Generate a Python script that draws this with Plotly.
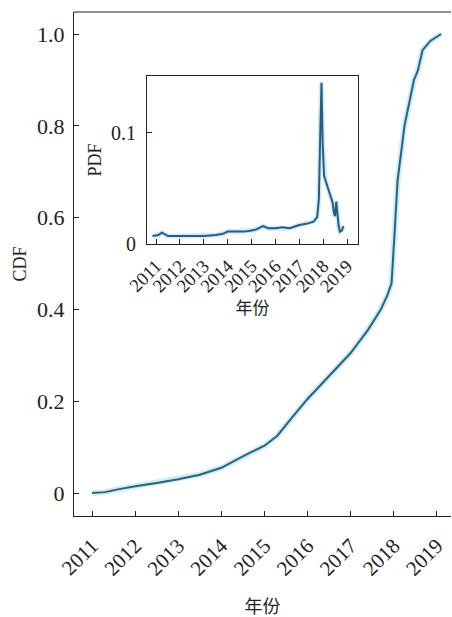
import plotly.graph_objects as go

# Main CDF curve (year, cumulative fraction)
cdf_year = [2011.0, 2011.3, 2011.6, 2012.0, 2012.5, 2013.0, 2013.5, 2014.0, 2014.3, 2014.6,
            2015.0, 2015.3, 2015.6, 2016.0, 2016.5, 2017.0, 2017.4, 2017.7, 2017.85, 2017.95,
            2018.02, 2018.09, 2018.25, 2018.37, 2018.47, 2018.56, 2018.67, 2018.85, 2019.1]
cdf_val = [0.0, 0.002, 0.008, 0.015, 0.022, 0.03, 0.04, 0.055, 0.07, 0.085,
           0.103, 0.125, 0.16, 0.205, 0.255, 0.305, 0.355, 0.40, 0.43, 0.457,
           0.566, 0.68, 0.80, 0.856, 0.90, 0.92, 0.965, 0.985, 1.0]

# Inset PDF curve
pdf_year = [2010.85, 2011.1, 2011.25, 2011.5, 2012.0, 2012.5, 2013.0, 2013.5, 2013.8, 2014.0,
            2014.3, 2014.7, 2015.0, 2015.2, 2015.48, 2015.7, 2016.0, 2016.3, 2016.6, 2017.0,
            2017.3, 2017.6, 2017.75, 2017.82, 2017.88, 2017.93, 2017.98, 2018.04, 2018.1, 2018.2,
            2018.3, 2018.4, 2018.45, 2018.5, 2018.55, 2018.6, 2018.65, 2018.7, 2018.78, 2018.85]
pdf_val = [0.007, 0.008, 0.010, 0.007, 0.007, 0.007, 0.007, 0.008, 0.009, 0.011,
           0.011, 0.011, 0.012, 0.013, 0.016, 0.014, 0.014, 0.015, 0.014, 0.017,
           0.018, 0.020, 0.024, 0.04, 0.10, 0.145, 0.09, 0.061, 0.057, 0.05,
           0.043, 0.037, 0.028, 0.025, 0.038, 0.024, 0.016, 0.011, 0.012, 0.016]

year_ticks = [2011, 2012, 2013, 2014, 2015, 2016, 2017, 2018, 2019]
year_labels = [str(y) for y in year_ticks]

line_color = "#1f6680"
glow = "rgba(120,185,215,0.30)"
serif = "'Liberation Serif', 'Times New Roman', 'Noto Sans CJK SC', serif"

fig = go.Figure()
fig.add_trace(go.Scatter(x=cdf_year, y=cdf_val, mode="lines", line=dict(color=glow, width=6),
                         xaxis="x", yaxis="y", showlegend=False, hoverinfo="skip"))
fig.add_trace(go.Scatter(x=cdf_year, y=cdf_val, mode="lines", line=dict(color=line_color, width=2),
                         xaxis="x", yaxis="y", showlegend=False))
fig.add_trace(go.Scatter(x=pdf_year, y=pdf_val, mode="lines", line=dict(color=glow, width=5),
                         xaxis="x2", yaxis="y2", showlegend=False, hoverinfo="skip"))
fig.add_trace(go.Scatter(x=pdf_year, y=pdf_val, mode="lines", line=dict(color="#1f5f8a", width=2),
                         xaxis="x2", yaxis="y2", showlegend=False))

axis_common = dict(showgrid=False, zeroline=False, showline=True, linecolor="#222", linewidth=1.2,
                   ticks="inside", ticklen=5, tickcolor="#222")

fig.update_layout(
    width=452, height=617,
    margin=dict(l=74, r=1, t=12, b=101),
    plot_bgcolor="white", paper_bgcolor="white",
    font=dict(family=serif, color="#222"),
    xaxis=dict(**axis_common, domain=[0, 1], range=[2010.58, 2019.33],
               tickvals=year_ticks, ticktext=year_labels, tickangle=-45,
               tickfont=dict(size=21, family=serif), ticklabelstandoff=8,
               title=dict(text="年份", font=dict(size=18, family=serif), standoff=20),
               anchor="y"),
    yaxis=dict(**axis_common, domain=[0, 1], range=[-0.05, 1.048],
               tickvals=[0, 0.2, 0.4, 0.6, 0.8, 1.0], ticktext=["0", "0.2", "0.4", "0.6", "0.8", "1.0"],
               tickfont=dict(size=22, family=serif), ticklabelstandoff=4,
               title=dict(text="CDF", font=dict(size=18, family=serif), standoff=5),
               anchor="x"),
    xaxis2=dict(**axis_common, mirror=True, domain=[0.1936, 0.7533], range=[2010.62, 2019.46],
                tickvals=year_ticks, ticktext=year_labels, tickangle=-45,
                tickfont=dict(size=18.5, family=serif), ticklabelstandoff=3,
                title=dict(text="年份", font=dict(size=17, family=serif), standoff=6),
                anchor="y2"),
    yaxis2=dict(**axis_common, mirror=True, domain=[0.540, 0.873], range=[0, 0.151],
                tickvals=[0, 0.1], ticktext=["0", "0.1"],
                tickfont=dict(size=20, family=serif), ticklabelstandoff=6,
                title=dict(text="PDF", font=dict(size=18, family=serif), standoff=4),
                anchor="x2"),
)

# top border of main plot
fig.add_shape(type="line", xref="paper", yref="paper", x0=0, x1=1, y0=1, y1=1,
              line=dict(color="#222", width=1.2))

fig.write_html("out.html")
